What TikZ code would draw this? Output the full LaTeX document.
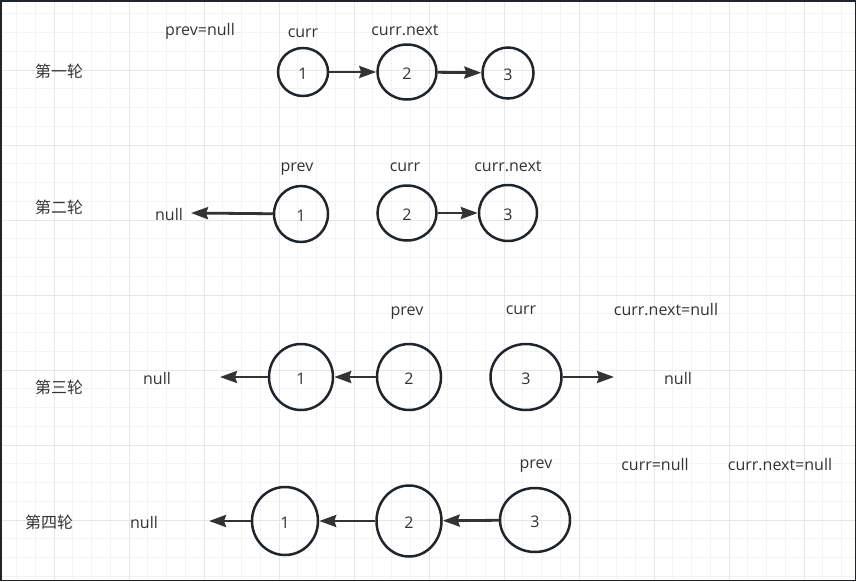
\documentclass[tikz,border=0pt]{standalone}
\usepackage{fontspec}
\setmainfont{Open Sans}
\newfontfamily\cjk{Noto Sans CJK SC}
\usetikzlibrary{positioning}
\usetikzlibrary{arrows.meta}
\usetikzlibrary{shapes.geometric}
\definecolor{gridminor}{HTML}{F3F3F3}
\definecolor{gridmajor}{HTML}{E6E6E6}
\definecolor{ink}{HTML}{333333}
\definecolor{rim}{HTML}{1F252B}

\begin{document}
\begin{tikzpicture}[ x = 1pt, y = -1pt
                   , font = \fontsize{16}{19}\selectfont
                   , >={Stealth[length=17pt, width=12pt, inset=2pt]}
                   , every node/.style = { text = ink
                                         , text height = 16pt
                                         , text depth = 2pt }
                   ]

  %%
  %% Background grid
  %%
  \tikzset{ minor/.style={draw=gridminor, line width=1pt}
          , major/.style={draw=gridmajor, line width=1pt}
          }
  \useasboundingbox (0,0) rectangle (856,581);
  \foreach \k in {-2,...,42}
    \draw[minor] ({54+18.75*\k},0) -- ({54+18.75*\k},581);
  \foreach \k in {-3,...,27}
    \draw[minor] (0,{70+18.75*\k}) -- (856,{70+18.75*\k});
  \foreach \k in {0,...,10}
    \draw[major] ({54+75*\k},0) -- ({54+75*\k},581);
  \foreach \k in {0,...,6}
    \draw[major] (0,{70+75*\k}) -- (856,{70+75*\k});
  \draw[draw=rim, line width=1.5pt] (0.75,0.75) rectangle (855.25,580.25);

  %%
  %% Nodes
  %%
  \tikzset{ item/.style={ellipse, draw=rim, line width=2.5pt, inner sep=0pt}
          , tag/.style={inner sep=1pt}
          , zh/.style={inner sep=1pt, font=\cjk\fontsize{16}{19}\selectfont}
          , link/.style={->, draw=ink, line width=2.8pt}
          }

  % Round one
  \node (round1) [zh] at (59,70) {第一轮};
  \node (a1) [item, minimum width=50pt, minimum height=48pt] at (303,72) {1};
  \node (a2) [item, minimum width=59pt, minimum height=55pt] at (407,72) {2};
  \node (a3) [item, minimum width=51pt, minimum height=51pt] at (508,73) {3};
  \node (aprev) [tag] at (200,28) {prev=null};
  \node (acurr) [tag] at (303,30) {curr};
  \node (anext) [tag] at (405,28) {curr.next};

  % Round two
  \node (round2) [zh] at (59,206) {第二轮};
  \node (b1) [item, minimum width=54pt, minimum height=56pt] at (301,214) {1};
  \node (b2) [item, minimum width=59pt, minimum height=55pt] at (407,213) {2};
  \node (b3) [item, minimum width=58pt, minimum height=56pt] at (508,213) {3};
  \node (bnull) [tag] at (169,213) {null};
  \coordinate (bend) at (191,213);
  \node (bprev) [tag] at (297,164) {prev};
  \node (bcurr) [tag] at (405,164) {curr};
  \node (bnext) [tag] at (508,164) {curr.next};

  % Round three
  \node (round3) [zh] at (59,386) {第三轮};
  \node (c1) [item, minimum width=64pt, minimum height=66pt] at (301,377) {1};
  \node (c2) [item, minimum width=64pt, minimum height=66pt] at (409,377) {2};
  \node (c3) [item, minimum width=71pt, minimum height=66pt] at (526,377) {3};
  \node (cnull) [tag] at (157,377) {null};
  \coordinate (cend) at (220,377);
  \node (cnextnull) [tag] at (678,377) {null};
  \coordinate (cout) at (614,377);
  \node (cprev) [tag] at (407,308) {prev};
  \node (ccurr) [tag] at (521,307) {curr};
  \node (cnext) [tag] at (666,308) {curr.next=null};

  % Round four
  \node (round4) [zh] at (49,521) {第四轮};
  \node (d1) [item, minimum width=66pt, minimum height=68pt] at (285,521) {1};
  \node (d2) [item, minimum width=65pt, minimum height=71pt] at (409,521) {2};
  \node (d3) [item, minimum width=70pt, minimum height=64pt] at (535,520) {3};
  \node (dnull) [tag] at (144,521) {null};
  \coordinate (dend) at (209,521);
  \node (dprev) [tag] at (536,461) {prev};
  \node (dcurr) [tag] at (655,463) {curr=null};
  \node (dnext) [tag] at (780,463) {curr.next=null};

  %%
  %% Links between nodes (arrows)
  %%
  \draw[link] (a1) -- (a2);
  \draw[link] (a2) -- (a3);

  \draw[link] (b1) -- (bend);
  \draw[link] (b2) -- (b3);

  \draw[link] (c2) -- (c1);
  \draw[link] (c1) -- (cend);
  \draw[link] (c3) -- (cout);

  \draw[link] (d3) -- (d2);
  \draw[link] (d2) -- (d1);
  \draw[link] (d1) -- (dend);
\end{tikzpicture}
\end{document}
